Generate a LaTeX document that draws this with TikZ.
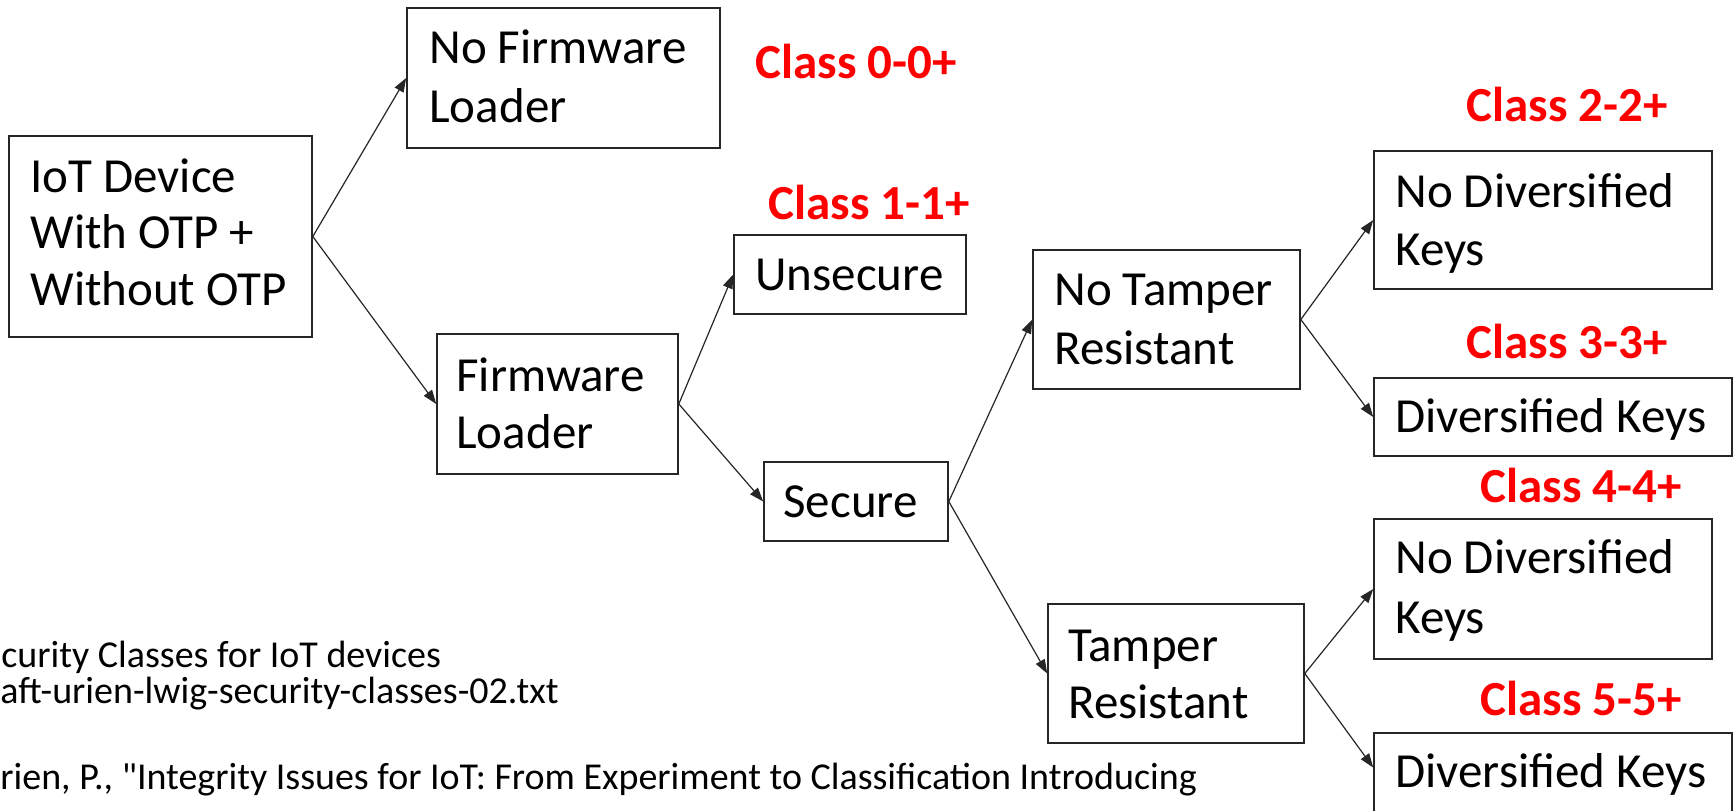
\documentclass[tikz,border=0pt]{standalone}
\usepackage{fontspec}
\setmainfont{Carlito}
\newfontfamily\notefont{Carlito}[Ligatures=TeXOff]
\usetikzlibrary{arrows.meta,fit}
\definecolor{classred}{RGB}{255,0,0}
\tikzset{
  box/.style={draw=black!85, line width=0.8pt, inner sep=0pt, rectangle},
  txt/.style={anchor=base west, inner sep=0pt, font=\fontsize{24.5pt}{28pt}\selectfont},
  cls/.style={anchor=base west, inner sep=0pt, text=classred, font=\fontsize{24.5pt}{28pt}\selectfont\bfseries},
  note/.style={anchor=base west, inner sep=0pt, font=\notefont\fontsize{19pt}{22pt}\selectfont},
  arr/.style={draw=black!85, line width=0.6pt, -{Triangle[length=7pt,width=5pt]}}
}
\begin{document}
\begin{tikzpicture}[x=0.5pt,y=-0.5pt]
\useasboundingbox (0,0) rectangle (1734,810);
\clip (0,0) rectangle (1734,810);
\fill[white] (0,0) rectangle (1734,810);

% boxes
\node[box, fit={(9,136) (312,337)}] (iot) {};
\node[box, fit={(407,8) (720,148)}] (nofw) {};
\node[box, fit={(437,334) (678,474)}] (fw) {};
\node[box, fit={(734,235) (966,314)}] (unsec) {};
\node[box, fit={(764,462) (948,541)}] (sec) {};
\node[box, fit={(1033,250) (1300,389)}] (notr) {};
\node[box, fit={(1048,604) (1304,743)}] (tr) {};
\node[box, fit={(1374,151) (1712,289)}] (ndka) {};
\node[box, fit={(1374,378) (1732,456)}] (dka) {};
\node[box, fit={(1374,519) (1712,659)}] (ndkb) {};
\node[box, fit={(1374,733) (1732,814)}] (dkb) {};

% box texts
\node[txt] (iott1) at (30,192) {IoT Device};
\node[txt] (iott2) at (30,248) {With OTP +};
\node[txt] (iott3) at (30,305) {Without OTP};
\node[txt] (nofwt1) at (429,63) {No Firmware};
\node[txt] (nofwt2) at (429,122) {Loader};
\node[txt] (fwt1) at (456,391) {Firmware};
\node[txt] (fwt2) at (456,448) {Loader};
\node[txt] (unsect) at (755,290) {Unsecure};
\node[txt] (sect) at (783,517) {Secure};
\node[txt] (notrt1) at (1054,305) {No Tamper};
\node[txt] (notrt2) at (1054,364) {Resistant};
\node[txt] (trt1) at (1068,661) {Tamper};
\node[txt] (trt2) at (1068,718) {Resistant};
\node[txt] (ndkat1) at (1395,207) {No Diversified};
\node[txt] (ndkat2) at (1395,265) {Keys};
\node[txt] (dkat) at (1395,432) {Diversified Keys};
\node[txt] (ndkbt1) at (1395,573) {No Diversified};
\node[txt] (ndkbt2) at (1395,633) {Keys};
\node[txt] (dkbt) at (1395,787) {Diversified Keys};

% class labels
\node[cls] (c0) at (755,78) {Class 0-0+};
\node[cls] (c1) at (768,219) {Class 1-1+};
\node[cls] (c2) at (1466,121) {Class 2-2+};
\node[cls] (c3) at (1466,358) {Class 3-3+};
\node[cls] (c4) at (1480,502) {Class 4-4+};
\node[cls] (c5) at (1480,715) {Class 5-5+};

% notes
\node[note] (n1) at (1,667) {curity Classes for IoT devices};
\node[note] (n2) at (0,703) {aft-urien-lwig-security-classes-02.txt};
\node[note] (n3) at (0,789) {rien, P., "Integrity Issues for IoT: From Experiment to Classification Introducing};

% connectors
\draw[arr] (iot.east) -- (nofw.west);
\draw[arr] (iot.east) -- (fw.west);
\draw[arr] (fw.east) -- (unsec.west);
\draw[arr] (fw.east) -- (sec.west);
\draw[arr] (sec.east) -- (notr.west);
\draw[arr] (sec.east) -- (tr.west);
\draw[arr] (notr.east) -- (ndka.west);
\draw[arr] (notr.east) -- (dka.west);
\draw[arr] (tr.east) -- (ndkb.west);
\draw[arr] (tr.east) -- ([yshift=3pt]dkb.west);
\end{tikzpicture}
\end{document}
